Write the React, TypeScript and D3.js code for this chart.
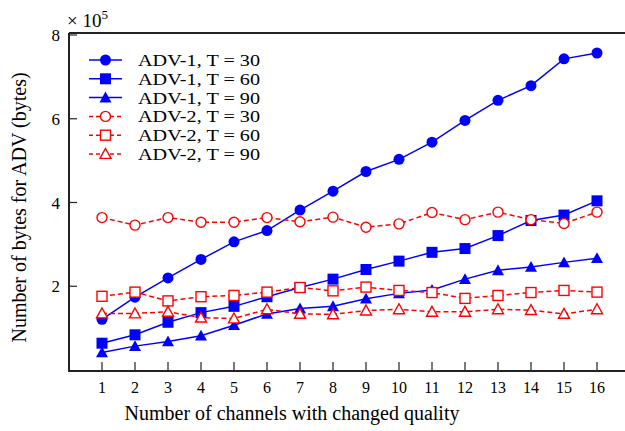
import React from "react";
import * as d3 from "d3";

const channels = d3.range(1, 17);
const yTicks = [2, 4, 6, 8];

// values in units of 1e5 bytes
const adv1T30 = [1.21, 1.74, 2.2, 2.64, 3.06, 3.33, 3.82, 4.27, 4.74, 5.03, 5.44, 5.96, 6.44, 6.79, 7.43, 7.57];
const adv1T60 = [0.64, 0.84, 1.14, 1.37, 1.52, 1.75, 1.97, 2.17, 2.4, 2.6, 2.81, 2.9, 3.21, 3.57, 3.7, 4.04];
const adv1T90 = [0.42, 0.57, 0.68, 0.82, 1.07, 1.34, 1.47, 1.52, 1.7, 1.83, 1.91, 2.17, 2.38, 2.46, 2.57, 2.67];
const adv2T30 = [3.64, 3.46, 3.64, 3.53, 3.53, 3.64, 3.54, 3.65, 3.41, 3.49, 3.76, 3.59, 3.77, 3.59, 3.5, 3.77];
const adv2T60 = [1.76, 1.86, 1.65, 1.75, 1.78, 1.86, 1.97, 1.89, 1.98, 1.9, 1.85, 1.71, 1.78, 1.85, 1.9, 1.86];
const adv2T90 = [1.35, 1.35, 1.39, 1.25, 1.23, 1.45, 1.34, 1.33, 1.42, 1.45, 1.39, 1.39, 1.45, 1.43, 1.34, 1.45];

const seriesNames = ["ADV-1, T = 30", "ADV-1, T = 60", "ADV-1, T = 90", "ADV-2, T = 30", "ADV-2, T = 60", "ADV-2, T = 90"];
const seriesValues = [adv1T30, adv1T60, adv1T90, adv2T30, adv2T60, adv2T90];
const seriesShapes = ["circle", "square", "triangle", "circle", "square", "triangle"];

const font = "'Liberation Serif', 'Times New Roman', serif";

function Marker({ shape, x, y, color, filled }: any) {
  const fill = filled ? color : "white";
  const sw = filled ? 0 : 1.4;
  if (shape === "circle") {
    return <circle cx={x} cy={y} r={filled ? 5.5 : 5} fill={fill} stroke={color} strokeWidth={sw} />;
  }
  if (shape === "square") {
    const s = filled ? 11 : 10;
    return <rect x={x - s / 2} y={y - s / 2} width={s} height={s} fill={fill} stroke={color} strokeWidth={sw} />;
  }
  const h = filled ? 6 : 5.5;
  return (
    <path
      d={`M${x},${y - h}L${x + h},${y + h * 0.8}L${x - h},${y + h * 0.8}Z`}
      fill={fill}
      stroke={color}
      strokeWidth={sw}
    />
  );
}

export default function App() {
  const width = 625;
  const height = 431;
  const left = 69;
  const top = 33;
  const bottom = 370;

  const x = d3.scaleLinear().domain([0, 1]).range([left, left + 33]);
  const y = d3.scaleLinear().domain([0, 8]).range([bottom, 35]);

  const line = d3
    .line<number>()
    .x((_, i) => x(channels[i]))
    .y((d) => y(d));

  return (
    <div>
      <style>{`body{margin:0}`}</style>
      <svg width={width} height={height} style={{ display: "block", fontFamily: font }}>
        {/* axes frame, no right edge */}
        <line x1={left} x2={width} y1={top} y2={top} stroke="#222" strokeWidth={2} />
        <line x1={left} x2={width} y1={bottom + 1} y2={bottom + 1} stroke="#222" strokeWidth={2} />
        <line x1={left} x2={left} y1={top} y2={bottom + 2} stroke="#222" strokeWidth={2} />

        {channels.map((c) => (
          <g key={c}>
            <line x1={x(c)} x2={x(c)} y1={bottom} y2={bottom - 8} stroke="#222" strokeWidth={1.2} />
            <text x={x(c)} y={393} textAnchor="middle" fontSize={16}>
              {c}
            </text>
          </g>
        ))}
        {yTicks.map((t) => (
          <g key={t}>
            <line x1={left} x2={left + 8} y1={y(t)} y2={y(t)} stroke="#222" strokeWidth={1.2} />
            <text x={60} y={y(t) + 6} textAnchor="end" fontSize={17}>
              {t}
            </text>
          </g>
        ))}
        <text x={67} y={27} fontSize={19}>
          × 10
          <tspan dy={-8} fontSize={13}>
            5
          </tspan>
        </text>

        <text x={292} y={420} textAnchor="middle" fontSize={20}>
          Number of channels with changed quality
        </text>
        <text transform={`translate(26,${(top + bottom) / 2 + 6}) rotate(-90)`} textAnchor="middle" fontSize={20}>
          Number of bytes for ADV (bytes)
        </text>

        {seriesValues.map((vals, si) => {
          const color = si < 3 ? "#0000ff" : "#ff0000";
          const filled = si < 3;
          return (
            <g key={si}>
              <path
                d={line(vals) || ""}
                fill="none"
                stroke={color}
                strokeWidth={1.5}
                strokeDasharray={filled ? undefined : "5,3"}
              />
              {vals.map((v, i) => (
                <Marker key={i} shape={seriesShapes[si]} x={x(channels[i])} y={y(v)} color={color} filled={filled} />
              ))}
            </g>
          );
        })}

        {/* legend */}
        {seriesNames.map((name, si) => {
          const color = si < 3 ? "#0000ff" : "#ff0000";
          const filled = si < 3;
          const ly = 60 + si * 18.8;
          return (
            <g key={name}>
              <line
                x1={89}
                x2={122}
                y1={ly}
                y2={ly}
                stroke={color}
                strokeWidth={1.5}
                strokeDasharray={filled ? undefined : "4,3"}
              />
              <Marker shape={seriesShapes[si]} x={105.5} y={ly} color={color} filled={filled} />
              <text x={138} y={ly + 6} fontSize={17} textLength={122} lengthAdjust="spacingAndGlyphs">
                {name}
              </text>
            </g>
          );
        })}
      </svg>
    </div>
  );
}
